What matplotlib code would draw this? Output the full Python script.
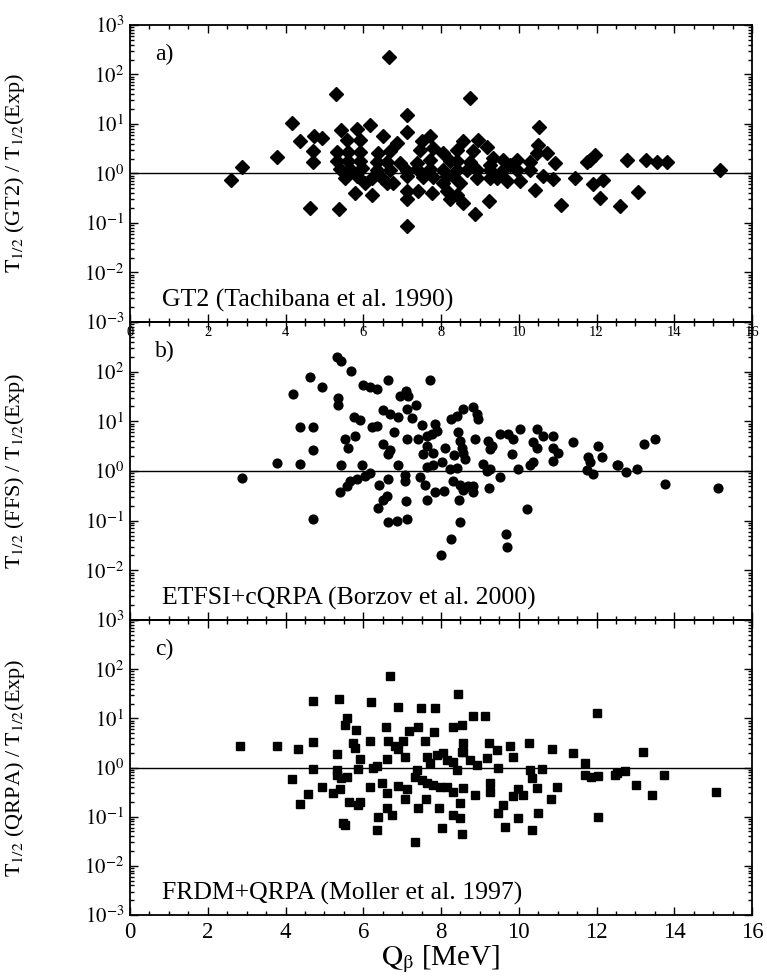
import matplotlib
matplotlib.use("Agg")
import matplotlib.pyplot as plt
from matplotlib.ticker import LogLocator, NullFormatter, MultipleLocator

plt.rcParams['font.family'] = ['Liberation Serif', 'DejaVu Serif']
plt.rcParams['mathtext.fontset'] = 'stix'

# panel a) GT2 (Tachibana et al. 1990)
q_gt2 = [2.61, 2.87, 3.78,
         4.18, 4.37, 4.73, 4.93, 5.29, 5.44, 5.83, 6.17, 6.67, 7.12, 7.12, 8.75, 10.52,
         5.57, 5.92, 6.52, 6.88, 7.72, 7.5, 8.57, 8.96, 9.18, 10.5,
         4.72, 5.32, 5.62, 5.92, 6.39, 6.69, 7.46, 7.8, 8.06, 8.4, 8.83, 9.35, 9.6, 10.46, 10.72,
         4.72, 5.32, 5.62, 5.92, 6.35, 6.6, 6.95, 7.37, 7.72, 8.23, 8.4, 8.75, 9.26, 9.77, 9.95,
         10.29, 10.93, 11.75,
         5.4, 5.66, 5.96, 6.35, 6.69, 7.12, 7.37, 7.72, 8.06, 8.4, 8.66, 8.92, 9.26, 9.6, 9.95, 10.29,
         5.53, 5.83, 6.22, 6.47, 6.77, 6.6, 7.12, 7.54, 7.8, 8.15, 8.32, 8.06, 8.49, 8.92, 9.26,
         9.43, 9.69, 10.03, 10.63, 10.89, 11.45,
         6.05, 5.79, 6.22, 7.12, 7.12, 7.42, 7.76, 8.15, 8.23, 8.4, 8.57, 9.24, 10.42,
         4.63, 5.38, 8.87, 11.08, 7.12,
         11.84, 11.97, 11.91, 12.1, 12.16, 12.6, 12.79, 13.08, 13.27, 13.55, 13.82, 15.18]
r_gt2 = [0.75, 1.35, 2.15,
         10.5, 4.5, 5.6, 5.2, 41, 7.6, 7.9, 9.5, 230, 15.5, 6.8, 33, 8.5,
         4.8, 4.8, 5.8, 4.1, 5.6, 4.5, 4.5, 4.8, 3.5, 3.8,
         2.8, 2.75, 2.75, 2.75, 2.6, 2.8, 3.0, 3.2, 2.6, 3.0, 2.8, 2.05, 1.9, 2.6, 2.6,
         1.74, 1.8, 1.8, 1.8, 1.74, 1.74, 1.66, 1.66, 1.9, 1.78, 1.78, 1.74, 1.5, 1.5, 1.9,
         1.74, 1.6, 1.74,
         1.23, 1.23, 1.29, 1.2, 1.2, 1.1, 1.26, 1.26, 1.2, 1.2, 1.2, 1.2, 1.15, 1.15, 1.15, 1.15,
         0.81, 0.87, 0.83, 0.83, 0.63, 0.63, 0.87, 0.85, 0.85, 0.89, 0.89, 0.63, 0.63, 0.83, 0.83,
         0.83, 0.71, 0.71, 0.87, 0.76, 0.81,
         0.65, 0.41, 0.37, 0.44, 0.3, 0.44, 0.41, 0.44, 0.3, 0.37, 0.25, 0.28, 0.47,
         0.2, 0.195, 0.15, 0.23, 0.085,
         1.85, 2.4, 0.6, 0.32, 0.75, 0.22, 1.9, 0.42, 1.9, 1.7, 1.7, 1.15]

# panel b) ETFSI+cQRPA (Borzov et al. 2000)
q_ffs = [5.32, 5.42, 5.68, 4.63, 4.93, 4.2, 6.0, 6.17, 6.36, 6.64, 7.72, 7.1, 6.95, 7.16,
         7.36, 7.12, 5.36, 5.36, 6.52, 6.69, 6.9, 7.25, 5.75, 5.92, 8.83, 8.92, 8.96,
         8.57, 8.4, 8.27, 4.37, 4.72, 6.22, 6.35, 7.5, 7.85, 7.89, 7.63, 7.76, 7.42, 7.12,
         6.79, 5.53, 5.79, 5.62, 4.7, 6.5, 6.69, 6.64, 7.63, 7.54, 7.8, 8.1, 8.33,
         8.49, 8.53, 8.57, 8.62, 8.45, 8.87, 9.22, 9.3, 9.26, 9.52, 9.73, 10.03, 9.82, 9.86,
         10.46, 10.63, 10.89, 10.37, 10.46, 10.89, 11.02, 10.89, 11.4, 12.05, 12.13,
         11.79, 11.83, 12.52, 4.37, 5.44, 5.96, 6.9, 7.07, 7.07,
         7.63, 7.8, 8.02, 8.23, 8.4, 7.46, 7.59, 7.63, 7.85, 8.08,
         8.32, 8.49, 8.57, 8.7, 8.83, 8.83, 8.47, 8.49, 8.27, 8.0,
         9.09, 9.18, 9.26, 9.52, 9.24, 9.99, 10.29, 10.37, 10.2, 9.67, 9.71, 11.75, 11.9,
         5.4, 5.57, 5.66, 5.83, 6.17, 6.05, 6.41, 6.64, 6.6, 6.52, 6.39, 7.1,
         6.64, 6.86, 7.12, 4.72,
         2.87, 3.78, 12.56, 12.76, 13.04, 13.23, 13.5, 13.77, 15.12]
r_ffs = [195, 162, 105, 78, 50, 36, 54, 50, 45, 69, 68, 40, 33, 33,
         21, 18, 30, 21, 17, 14, 12, 11.5, 12, 10.7, 19, 14, 11,
         18, 13, 11, 7.6, 7.6, 7.6, 7.9, 8.5, 8.9, 6.4, 5.1, 5.5, 4.4, 4.4,
         6.0, 4.4, 5.1, 2.9, 2.6, 3.5, 2.6, 2.2, 3.2, 2.2, 2.35, 2.9, 2.1,
         4.1, 2.9, 2.35, 1.74, 6.0, 4.4, 4.1, 3.2, 2.75, 5.5, 5.5, 6.9, 2.2, 4.4,
         6.9, 5.1, 5.0, 3.8, 2.9, 2.9, 2.35, 1.6, 3.9, 3.2, 1.9,
         1.95, 1.55, 1.3, 1.38, 1.3, 1.3, 1.3, 0.85, 0.63,
         1.2, 1.3, 1.5, 1.1, 1.17, 0.74, 0.52, 0.26, 0.37, 0.4,
         0.63, 0.52, 0.42, 0.5, 0.51, 0.37, 0.26, 0.093, 0.042, 0.02,
         1.38, 1.02, 1.1, 0.74, 0.45, 1.1, 1.3, 1.5, 0.17, 0.054, 0.03, 1.05, 0.87,
         0.37, 0.5, 0.63, 0.69, 0.91, 0.81, 0.52, 0.69, 0.31, 0.26, 0.18, 0.25,
         0.093, 0.1, 0.11, 0.107,
         0.71, 1.42, 1.3, 0.97, 1.1, 3.45, 4.4, 0.55, 0.45]

# panel c) FRDM+QRPA (Moller et al. 1997)
q_qrpa = [6.69, 8.45, 4.7, 5.38, 6.2, 6.89, 7.49, 7.85, 8.82, 9.13, 12.02,
          5.59, 5.53, 5.81, 6.59, 7.18, 7.42, 7.82, 8.3, 8.53,
          4.7, 4.33, 5.73, 5.79, 6.17, 6.64, 6.82, 7.03, 6.9, 7.59, 8.57, 8.53,
          9.24, 9.43, 9.77, 10.26, 10.85, 11.39, 5.32, 5.92, 6.36, 6.6, 6.26, 7.07,
          7.63, 7.72, 7.89, 8.06, 8.15, 8.32, 8.4, 8.57, 8.75, 8.92, 9.18, 9.84, 9.47,
          10.29, 10.59, 10.33, 11.7, 11.7, 11.87, 12.05, 12.48,
          4.72, 5.32, 5.87, 4.18, 5.32, 5.44, 5.57,
          7.37, 7.33, 7.5, 7.63, 7.8, 7.97, 8.15, 8.32, 8.57, 8.87, 9.26, 9.26,
          9.6, 9.47, 9.97, 9.86, 10.12, 10.46, 10.98, 10.83, 10.5, 10.33, 9.97, 9.65, 12.05,
          4.93, 4.59, 4.37, 5.23, 5.4, 5.64, 5.92, 5.87, 6.17, 6.47, 6.6, 6.9, 7.12,
          7.07, 7.42, 7.61, 7.96, 8.49, 8.32, 8.49, 6.6, 6.73, 6.39, 5.49, 5.53, 6.36,
          8.02, 8.53, 7.33,
          2.84, 3.78, 12.54, 12.73, 13.02, 13.19, 13.44, 13.73, 15.08]
r_qrpa = [71, 31, 22, 24.5, 21, 17, 16.6, 16.6, 11, 11, 13,
          10, 7.3, 5.8, 6.7, 5.6, 6.6, 5.2, 6.6, 7.4,
          3.3, 2.4, 3.2, 2.5, 3.5, 3.5, 2.8, 3.5, 2.35, 3.5, 3.2, 2.1,
          3.1, 2.25, 2.8, 3.2, 2.35, 2.0, 1.9, 1.5, 1.07, 1.5, 1.0, 1.6,
          1.6, 1.23, 1.8, 1.95, 1.4, 1.3, 0.9, 2.1, 1.4, 1.12, 1.55, 1.6, 1.0,
          0.9, 0.92, 0.6, 1.26, 0.71, 0.63, 0.68, 0.71,
          0.95, 0.9, 0.95, 0.59, 0.71, 0.6, 0.63,
          0.9, 0.65, 0.56, 0.48, 0.44, 0.41, 0.41, 0.32, 0.38, 0.28, 0.48, 0.32,
          0.17, 0.12, 0.36, 0.26, 0.28, 0.38, 0.41, 0.23, 0.12, 0.054, 0.095, 0.063, 0.097,
          0.41, 0.29, 0.18, 0.31, 0.36, 0.2, 0.2, 0.17, 0.41, 0.48, 0.3, 0.42, 0.36,
          0.23, 0.15, 0.23, 0.15, 0.19, 0.107, 0.093, 0.15, 0.11, 0.1, 0.074, 0.068, 0.054,
          0.06, 0.044, 0.03,
          2.8, 2.8, 0.78, 0.85, 0.45, 2.1, 0.28, 0.72, 0.32]

ytick_vals = [1e-3, 1e-2, 1e-1, 1e0, 1e1, 1e2, 1e3]
ylabels_a = ['$10^{-3}$', '$10^{-2}$', '$10^{-1}$', '$10^{0}$', '$10^{1}$', '$10^{2}$', '$10^{3}$']
ylabels_b = ['$10^{3}$', '$10^{-2}$', '$10^{-1}$', '$10^{0}$', '$10^{1}$', '$10^{2}$', '']
ylabels_c = ['$10^{-3}$', '$10^{-2}$', '$10^{-1}$', '$10^{0}$', '$10^{1}$', '$10^{2}$', '']
xtick_vals = [0, 2, 4, 6, 8, 10, 12, 14, 16]

panels = [
    (q_gt2, r_gt2, 'D', 6.8, ylabels_a, 'a)', 'GT2 (Tachibana et al. 1990)',
     r'$\mathrm{T}_{1/2}$ (GT2) / $\mathrm{T}_{1/2}$(Exp)'),
    (q_ffs, r_ffs, 'o', 6.3, ylabels_b, 'b)', 'ETFSI+cQRPA (Borzov et al. 2000)',
     r'$\mathrm{T}_{1/2}$ (FFS) / $\mathrm{T}_{1/2}$(Exp)'),
    (q_qrpa, r_qrpa, 's', 5.8, ylabels_c, 'c)', 'FRDM+QRPA (Moller et al. 1997)',
     r'$\mathrm{T}_{1/2}$ (QRPA) / $\mathrm{T}_{1/2}$(Exp)'),
]

fig = plt.figure(figsize=(7.67, 9.8), dpi=100)
left, width = 130 / 767, 622 / 767
bottoms = [1 - 322 / 980, 1 - 620 / 980, 1 - 915 / 980]
heights = [297 / 980, 298 / 980, 295 / 980]

axes = []
for i, (q, r, mk, ms, ylab, tag, note, ytitle) in enumerate(panels):
    ax = fig.add_axes([left, bottoms[i], width, heights[i]])
    ax.patch.set_visible(False)
    ax.set_yscale('log')
    ax.set_xlim(0, 16)
    ax.set_ylim(1e-3, 1e3)
    ax.plot(q, r, linestyle='none', marker=mk, markersize=ms, color='black')
    ax.axhline(1, color='black', lw=1.0)
    ax.set_yticks(ytick_vals)
    ax.set_yticklabels(ylab)
    ax.yaxis.set_minor_locator(LogLocator(base=10, subs=range(2, 10), numticks=20))
    ax.yaxis.set_minor_formatter(NullFormatter())
    ax.set_xticks(xtick_vals)
    ax.xaxis.set_minor_locator(MultipleLocator(0.5))
    ax.tick_params(which='both', direction='in', top=True, right=True, width=1.0)
    ax.tick_params(which='major', length=6)
    ax.tick_params(which='minor', length=3)
    ax.tick_params(axis='y', labelsize=15, pad=4)
    for sp in ax.spines.values():
        sp.set_linewidth(1.3)
    ax.text(0.04, 0.9, tag, transform=ax.transAxes, fontsize=17, va='center')
    ax.text(0.052, 0.072, note, transform=ax.transAxes, fontsize=18.5, va='center')
    ax.set_ylabel(ytitle, fontsize=16)
    ax.yaxis.set_label_coords(-0.165, 0.5)
    axes.append(ax)

axes[0].tick_params(axis='x', labelsize=10.5, pad=3)
axes[1].tick_params(axis='x', labelbottom=False)
axes[2].tick_params(axis='x', labelsize=16.5, pad=5)
axes[2].set_xlabel(r'$\mathrm{Q}_{\mathrm{\beta}}$ [MeV]', fontsize=21, labelpad=0)

plt.savefig("out.png", dpi=100)
